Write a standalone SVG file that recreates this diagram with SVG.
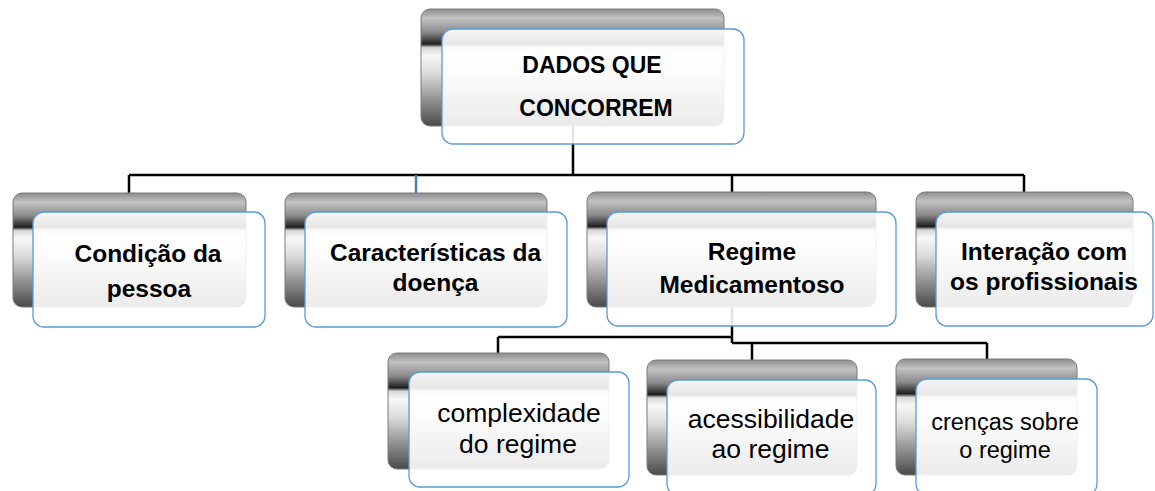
<svg xmlns="http://www.w3.org/2000/svg" width="1155" height="491" viewBox="0 0 1155 491">
<defs>
<linearGradient id="metal" x1="0" y1="0" x2="0" y2="1">
<stop offset="0" stop-color="#8c8c8c"/>
<stop offset="0.08" stop-color="#c2c2c2"/>
<stop offset="0.2" stop-color="#8a8a8a"/>
<stop offset="0.3" stop-color="#1e1e1e"/>
<stop offset="0.33" stop-color="#d8d8d8"/>
<stop offset="0.4" stop-color="#f7f7f7"/>
<stop offset="0.55" stop-color="#dcdcdc"/>
<stop offset="0.8" stop-color="#8a8a8a"/>
<stop offset="1" stop-color="#4a4a4a"/>
</linearGradient>
<style>
.back{fill:url(#metal);stroke:#7a7a7a;stroke-width:1}
.front{fill:#ffffff;fill-opacity:0.89;stroke:#5b9bd5;stroke-width:1.3}
.conn{fill:none;stroke:#000;stroke-width:2.5}
.connb{fill:none;stroke:#4a7ebb;stroke-width:2.5}
text{font-family:"Liberation Sans",Arial,sans-serif;fill:#000;text-anchor:middle}
.t1{font-size:23px;font-weight:bold}
.t2{font-size:24.5px;font-weight:bold}
.t3{font-size:26.5px}
.t4{font-size:23.5px}
</style>
</defs>
<g id="connectors">
<path class="conn" d="M573 126V175M129 175H1024M129 175V193M732 175V192M1024 175V192"/>
<path class="connb" d="M416 175V193"/>
<path class="conn" d="M732 307V343M498 337H732M498 337V353M732 343H987M752 343V360M987 343V359"/>
</g>
<g id="n-top">
<rect class="back" x="421" y="9" width="303" height="117" rx="9"/>
<rect class="front" x="442" y="29" width="302" height="115" rx="11"/>
<text class="t1" x="592" y="73">DADOS QUE</text>
<text class="t1" x="596" y="116">CONCORREM</text>
</g>
<g id="n-condicao">
<rect class="back" x="13" y="193" width="233" height="114" rx="9"/>
<rect class="front" x="33" y="212" width="232" height="115" rx="11"/>
<text class="t2" x="148" y="262">Condição da</text>
<text class="t2" x="149" y="297">pessoa</text>
</g>
<g id="n-caracteristicas">
<rect class="back" x="285" y="193" width="262" height="114" rx="9"/>
<rect class="front" x="305" y="212" width="262" height="115" rx="11"/>
<text class="t2" x="435.5" y="261">Características da</text>
<text class="t2" x="435.5" y="291">doença</text>
</g>
<g id="n-regime">
<rect class="back" x="587" y="192" width="289" height="115" rx="9"/>
<rect class="front" x="607" y="212" width="289" height="114" rx="11"/>
<text class="t2" x="752" y="260">Regime</text>
<text class="t2" x="752" y="293">Medicamentoso</text>
</g>
<g id="n-interacao">
<rect class="back" x="916" y="192" width="217" height="115" rx="9"/>
<rect class="front" x="936" y="212" width="217" height="114" rx="11"/>
<text class="t2" x="1044" y="260">Interação com</text>
<text class="t2" x="1044" y="290">os profissionais</text>
</g>
<g id="n-complexidade">
<rect class="back" x="388" y="353" width="221" height="116" rx="9"/>
<rect class="front" x="409" y="372" width="220" height="115" rx="11"/>
<text class="t3" x="519" y="422">complexidade</text>
<text class="t3" x="518" y="453">do regime</text>
</g>
<g id="n-acessibilidade">
<rect class="back" x="647" y="360" width="210" height="115" rx="9"/>
<rect class="front" x="667" y="380" width="209" height="115" rx="11"/>
<text class="t3" x="771" y="428">acessibilidade</text>
<text class="t3" x="770.5" y="458">ao regime</text>
</g>
<g id="n-crencas">
<rect class="back" x="896" y="359" width="181" height="116" rx="9"/>
<rect class="front" x="916" y="379" width="181" height="116" rx="11"/>
<text class="t4" x="1005" y="430">crenças sobre</text>
<text class="t4" x="1005" y="458">o regime</text>
</g>
</svg>
